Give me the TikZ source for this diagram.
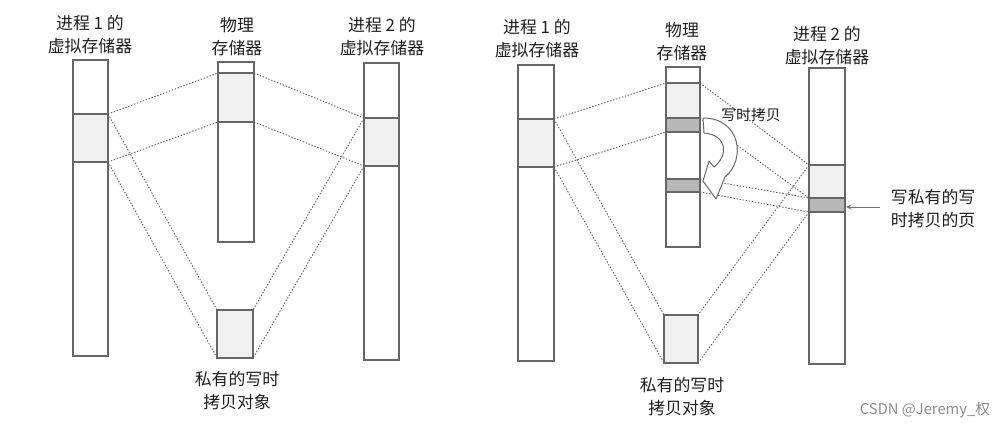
\documentclass[tikz,border=0pt]{standalone}
\usepackage{fontspec}
\usepackage{xcolor}
\usepackage{tikz}
\newfontfamily\cjk{Noto Sans CJK SC}

\begin{document}
\begin{tikzpicture}[x=0.025cm,y=-0.025cm,
	bar/.style={draw=black!60,line width=0.9pt},
	light/.style={fill=black!6},
	dark/.style={fill=black!28},
	link/.style={black!62,line width=0.65pt,dash pattern=on 1pt off 1.2pt},
	lbl/.style={text=black!88,font=\cjk\fontsize{12}{16.3}\selectfont,align=center}]
	\useasboundingbox (0,0) rectangle (1007,428);
	
	% left: before the write
	\fill[light] (73,114) rectangle (108,162);
	\fill[light] (218,73) rectangle (254,122);
	\fill[light] (364,118) rectangle (399,166);
	\fill[light] (217,310) rectangle (253,358);
	\draw[bar] (73,60) rectangle (108,356);
	\draw[bar] (73,114) -- (108,114) (73,162) -- (108,162);
	\draw[bar] (218,62) rectangle (254,242);
	\draw[bar] (218,73) -- (254,73) (218,122) -- (254,122);
	\draw[bar] (364,63) rectangle (399,360);
	\draw[bar] (364,118) -- (399,118) (364,166) -- (399,166);
	\draw[bar] (217,310) rectangle (253,358);
	
	\coordinate (lv1a) at (108,114);
	\coordinate (lv1b) at (108,162);
	\coordinate (lpa) at (218,73);
	\coordinate (lpb) at (218,122);
	\coordinate (lpc) at (254,73);
	\coordinate (lpd) at (254,122);
	\coordinate (lv2a) at (364,118);
	\coordinate (lv2b) at (364,166);
	\coordinate (loa) at (217,310);
	\coordinate (lob) at (217,358);
	\coordinate (loc) at (253,310);
	\coordinate (lod) at (253,358);
	
	\draw[link] (lv1a) -- (lpa);
	\draw[link] (lv1b) -- (lpb);
	\draw[link] (lpc) -- (lv2a);
	\draw[link] (lpd) -- (lv2b);
	\draw[link] (lv1a) -- (loa);
	\draw[link] (lv1b) -- (lob);
	\draw[link] (lv2a) -- (loc);
	\draw[link] (lv2b) -- (lod);
	
	\node[lbl] (lt1) at (90,34.5) {进程 1 的\\虚拟存储器};
	\node[lbl] (lt2) at (237,36.5) {物理\\存储器};
	\node[lbl] (lt3) at (382,37) {进程 2 的\\虚拟存储器};
	\node[lbl] (lt4) at (237,391) {私有的写时\\拷贝对象};
	
	% right: after the write
	\fill[light] (518,119) rectangle (554,167);
	\fill[light] (666,83) rectangle (700,118);
	\fill[dark] (666,118) rectangle (700,132);
	\fill[dark] (666,179) rectangle (700,192);
	\fill[light] (809,165) rectangle (845,198);
	\fill[dark] (809,198) rectangle (845,212);
	\fill[light] (664,315) rectangle (698,363);
	\draw[bar] (518,65) rectangle (554,361);
	\draw[bar] (518,119) -- (554,119) (518,167) -- (554,167);
	\draw[bar] (666,67) rectangle (700,247);
	\foreach \y in {83,118,132,179,192}{
		\draw[bar] (666,\y) -- (700,\y);
	}
	\draw[bar] (809,68) rectangle (845,364);
	\foreach \y in {165,198,212}{
		\draw[bar] (809,\y) -- (845,\y);
	}
	\draw[bar] (664,315) rectangle (698,363);
	
	\coordinate (rv1a) at (554,119);
	\coordinate (rv1b) at (554,167);
	\coordinate (rpa) at (666,83);
	\coordinate (rpb) at (666,132);
	\coordinate (rpc) at (700,83);
	\coordinate (rpd) at (700,118);
	\coordinate (rpe) at (700,179);
	\coordinate (rpf) at (700,192);
	\coordinate (rv2a) at (809,165);
	\coordinate (rv2b) at (809,198);
	\coordinate (rv2c) at (809,212);
	\coordinate (roa) at (664,315);
	\coordinate (rob) at (664,363);
	\coordinate (roc) at (698,315);
	\coordinate (rod) at (698,363);
	
	\draw[link] (rv1a) -- (rpa);
	\draw[link] (rv1b) -- (rpb);
	\draw[link] (rpc) -- (rv2a);
	\draw[link] (rpd) -- (rv2b);
	\draw[link] (rpe) -- (rv2b);
	\draw[link] (rpf) -- (rv2c);
	\draw[link] (rv1a) -- (roa);
	\draw[link] (rv1b) -- (rob);
	\draw[link] (rv2a) -- (roc);
	\draw[link] (rv2c) -- (rod);
	
	% hollow copy arrow
	\draw[black!60,line width=0.7pt,fill=white,line join=round]
		(703,118) .. controls (741,118) and (746,160) .. (725,177)
		-- (716,199) -- (703,181) -- (709,161) -- (714,167)
		.. controls (729,155) and (727,135) .. (704,133) -- cycle;
	
	\node[lbl] (rt1) at (537,39) {进程 1 的\\虚拟存储器};
	\node[lbl] (rt2) at (682,41.5) {物理\\存储器};
	\node[lbl] (rt3) at (827,45.5) {进程 2 的\\虚拟存储器};
	\node[lbl] (rt4) at (682,397) {私有的写时\\拷贝对象};
	\node[lbl,font=\cjk\fontsize{10.5}{13}\selectfont] (rt5) at (751,115) {写时拷贝};
	\node[lbl,align=left,anchor=west] (rt6) at (886,208.5) {写私有的写\\时拷贝的页};
	\coordinate (rtip) at (846,207);
	\draw[black!55,line width=0.7pt,-stealth] (rt6.west) ++(-6,-1.5) coordinate (rtail) (rtail) -- (rtip);
	
	\node[text=black!45,font=\cjk\fontsize{10.5}{12}\selectfont] (wm) at (925,410) {CSDN @Jeremy\_权};
\end{tikzpicture}
\end{document}
